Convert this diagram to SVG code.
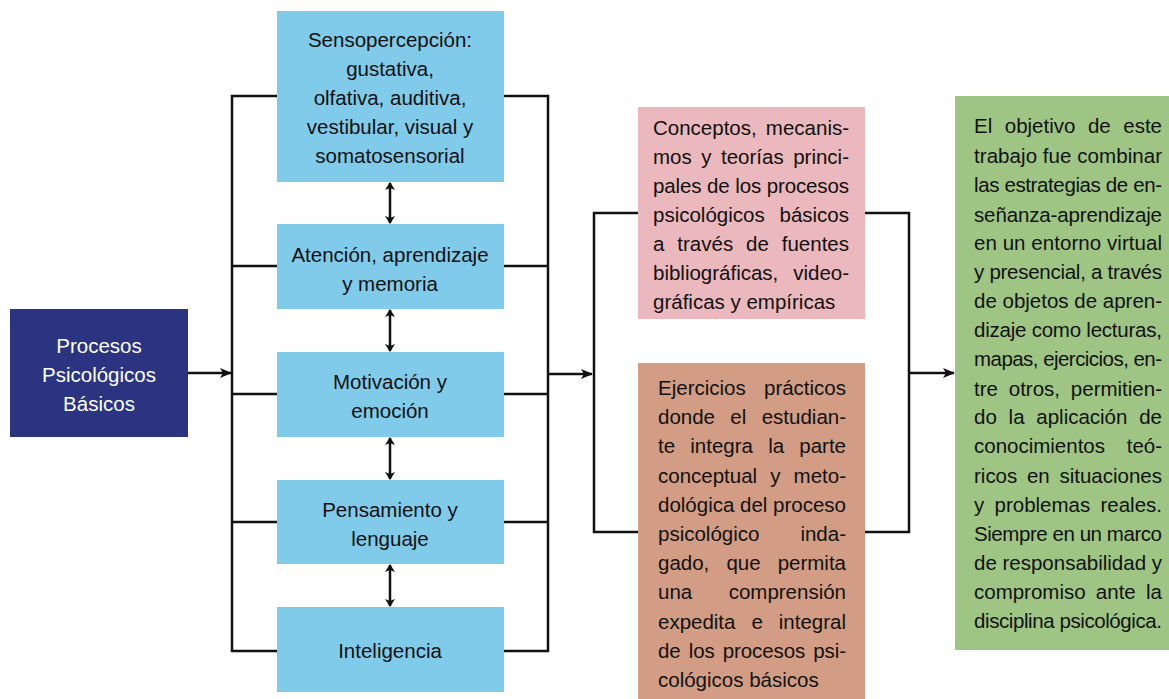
<svg xmlns="http://www.w3.org/2000/svg" width="1169" height="699" viewBox="0 0 1169 699">
<defs>
<style>
text{font-family:"Liberation Sans",Arial,sans-serif;font-size:20.5px;fill:#111;}
.c{text-anchor:middle;}
.w{fill:#fff;}
.ln{fill:none;stroke:#111;stroke-width:2.5;}
.blue{fill:#80caea;}
</style>
<marker id="ah" viewBox="0 0 12 10" refX="11" refY="5" markerWidth="12" markerHeight="10" markerUnits="userSpaceOnUse" orient="auto-start-reverse">
<path d="M0,0 L12,5 L0,10 L3,5 Z" fill="#111"/>
</marker>
<marker id="sh" viewBox="0 0 8 10" refX="7" refY="5" markerWidth="8" markerHeight="10" markerUnits="userSpaceOnUse" orient="auto-start-reverse">
<path d="M0,0 L8,5 L0,10 L2,5 Z" fill="#111"/>
</marker>
</defs>
<rect width="1169" height="699" fill="#fff"/>

<g id="connectors">
<path class="ln" d="M277,96 H232 V651 H277 M232,266 H277 M232,394 H277 M232,522 H277"/>
<path class="ln" d="M504,96 H548 V651 H504 M548,266 H504 M548,394 H504 M548,522 H504"/>
<path class="ln" d="M638,213 H594 V532 H638 M865,213 H909 V532 H865"/>
<line class="ln" x1="188" y1="373" x2="231" y2="373" marker-end="url(#ah)"/>
<line class="ln" x1="548" y1="374" x2="592" y2="374" marker-end="url(#ah)"/>
<line class="ln" x1="909" y1="373" x2="954" y2="373" marker-end="url(#ah)"/>
<line class="ln" x1="390" y1="183" x2="390" y2="223" marker-start="url(#sh)" marker-end="url(#sh)"/>
<line class="ln" x1="390" y1="310" x2="390" y2="351" marker-start="url(#sh)" marker-end="url(#sh)"/>
<line class="ln" x1="390" y1="438" x2="390" y2="479" marker-start="url(#sh)" marker-end="url(#sh)"/>
<line class="ln" x1="390" y1="565" x2="390" y2="606" marker-start="url(#sh)" marker-end="url(#sh)"/>
</g>

<g id="procesos">
<rect x="10" y="309" width="178" height="128" fill="#2a3480"/>
<text class="c w" x="99" y="353">Procesos</text>
<text class="c w" x="99" y="382">Psicológicos</text>
<text class="c w" x="99" y="411">Básicos</text>
</g>

<g id="sensopercepcion">
<rect class="blue" x="277" y="11" width="227" height="171"/>
<text class="c" x="390" y="47">Sensopercepción:</text>
<text class="c" x="390" y="76">gustativa,</text>
<text class="c" x="390" y="105">olfativa, auditiva,</text>
<text class="c" x="390" y="134">vestibular, visual y</text>
<text class="c" x="390" y="163">somatosensorial</text>
</g>

<g id="atencion">
<rect class="blue" x="277" y="224" width="227" height="85"/>
<text class="c" x="390" y="262">Atención, aprendizaje</text>
<text class="c" x="390" y="291">y memoria</text>
</g>

<g id="motivacion">
<rect class="blue" x="277" y="352" width="227" height="85"/>
<text class="c" x="390" y="389">Motivación y</text>
<text class="c" x="390" y="418">emoción</text>
</g>

<g id="pensamiento">
<rect class="blue" x="277" y="480" width="227" height="84"/>
<text class="c" x="390" y="517">Pensamiento y</text>
<text class="c" x="390" y="546">lenguaje</text>
</g>

<g id="inteligencia">
<rect class="blue" x="277" y="607" width="227" height="85"/>
<text class="c" x="390" y="658">Inteligencia</text>
</g>

<g id="conceptos">
<rect x="638" y="107" width="227" height="212" fill="#ebb8bd"/>
<text x="653" y="135" word-spacing="3.5" textLength="196" lengthAdjust="spacing">Conceptos, mecanis-</text>
<text x="653" y="164" word-spacing="3.8" textLength="196" lengthAdjust="spacing">mos y teorías princi-</text>
<text x="653" y="193" textLength="196" lengthAdjust="spacing">pales de los procesos</text>
<text x="653" y="222" word-spacing="9.2" textLength="196" lengthAdjust="spacing">psicológicos básicos</text>
<text x="653" y="251" word-spacing="7.2" textLength="196" lengthAdjust="spacing">a través de fuentes</text>
<text x="653" y="280" word-spacing="9.2" textLength="196" lengthAdjust="spacing">bibliográficas, video-</text>
<text x="653" y="309">gráficas y empíricas</text>
</g>

<g id="ejercicios">
<rect x="638" y="363" width="227" height="336" fill="#d29d84"/>
<text x="658" y="395" word-spacing="12.6" textLength="188" lengthAdjust="spacing">Ejercicios prácticos</text>
<text x="658" y="424" word-spacing="9.7" textLength="188" lengthAdjust="spacing">donde el estudian-</text>
<text x="658" y="453" word-spacing="9.5" textLength="188" lengthAdjust="spacing">te integra la parte</text>
<text x="658" y="483" word-spacing="7.4" textLength="188" lengthAdjust="spacing">conceptual y meto-</text>
<text x="658" y="512" textLength="188" lengthAdjust="spacing">dológica del proceso</text>
<text x="658" y="541" word-spacing="35.3" textLength="188" lengthAdjust="spacing">psicológico inda-</text>
<text x="658" y="570" word-spacing="11.4" textLength="188" lengthAdjust="spacing">gado, que permita</text>
<text x="658" y="599" word-spacing="30.8" textLength="188" lengthAdjust="spacing">una comprensión</text>
<text x="658" y="629" word-spacing="10.3" textLength="188" lengthAdjust="spacing">expedita e integral</text>
<text x="658" y="658" word-spacing="2.6" textLength="188" lengthAdjust="spacing">de los procesos psi-</text>
<text x="658" y="687">cológicos básicos</text>
</g>

<g id="objetivo">
<rect x="955" y="96" width="214" height="554" fill="#9fc585"/>
<text x="974" y="133" word-spacing="6.8" textLength="188" lengthAdjust="spacing">El objetivo de este</text>
<text x="974" y="163" textLength="188" lengthAdjust="spacing">trabajo fue combinar</text>
<text x="974" y="192" textLength="188" lengthAdjust="spacing">las estrategias de en-</text>
<text x="974" y="222" textLength="188" lengthAdjust="spacing">señanza-aprendizaje</text>
<text x="974" y="250" textLength="188" lengthAdjust="spacing">en un entorno virtual</text>
<text x="974" y="279" textLength="188" lengthAdjust="spacing">y presencial, a través</text>
<text x="974" y="308" textLength="188" lengthAdjust="spacing">de objetos de apren-</text>
<text x="974" y="337" textLength="188" lengthAdjust="spacing">dizaje como lecturas,</text>
<text x="974" y="366" textLength="188" lengthAdjust="spacing">mapas, ejercicios, en-</text>
<text x="974" y="396" word-spacing="5.1" textLength="188" lengthAdjust="spacing">tre otros, permitien-</text>
<text x="974" y="424" word-spacing="6.1" textLength="188" lengthAdjust="spacing">do la aplicación de</text>
<text x="974" y="453" word-spacing="16" textLength="188" lengthAdjust="spacing">conocimientos teó-</text>
<text x="974" y="483" word-spacing="4" textLength="188" lengthAdjust="spacing">ricos en situaciones</text>
<text x="974" y="512" word-spacing="4.6" textLength="188" lengthAdjust="spacing">y problemas reales.</text>
<text x="974" y="541" textLength="188" lengthAdjust="spacing">Siempre en un marco</text>
<text x="974" y="570" textLength="188" lengthAdjust="spacing">de responsabilidad y</text>
<text x="974" y="599" word-spacing="4.6" textLength="188" lengthAdjust="spacing">compromiso ante la</text>
<text x="974" y="628" textLength="188" lengthAdjust="spacing">disciplina psicológica.</text>
</g>
</svg>
